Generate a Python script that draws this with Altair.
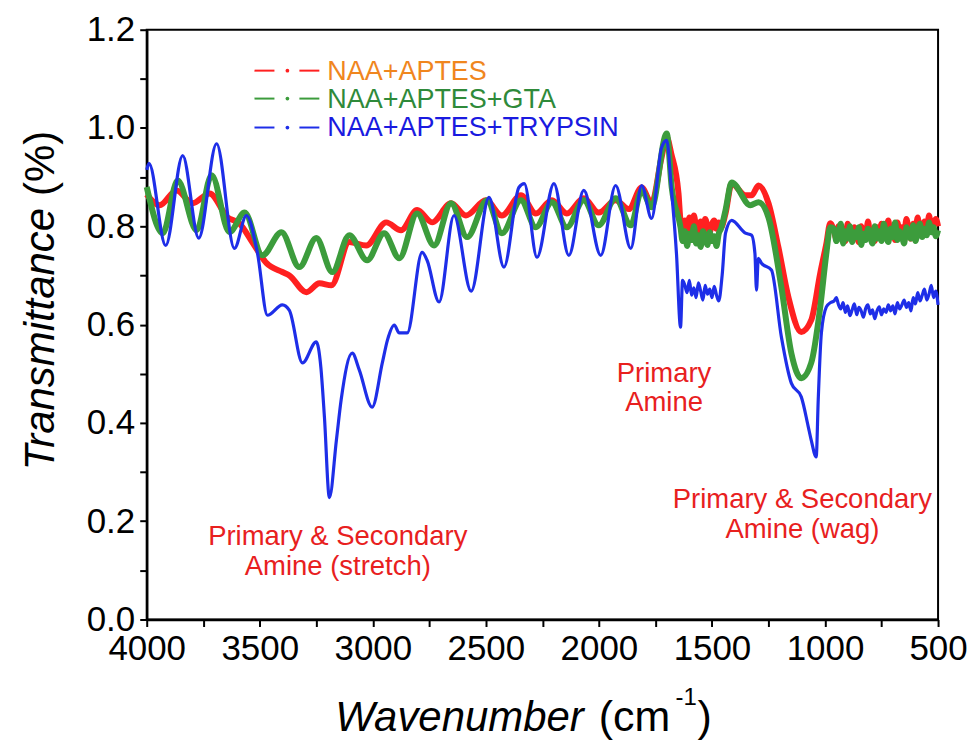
import altair as alt
import pandas as pd

# ---------------- data ----------------
series_names = ["NAA+APTES", "NAA+APTES+GTA", "NAA+APTES+TRYPSIN"]
line_colors = ["#FF2020", "#3C9C3C", "#1E2EE8"]
legend_text_colors = ["#F0861E", "#2F8A3A", "#1A1AE0"]

red_wavenumber = [4000, 3943, 3868, 3797, 3722, 3642, 3590, 3532, 3470, 3400, 3369, 3294, 3236, 3183,
                  3104, 3029, 2941, 2875, 2804, 2738, 2654, 2588, 2500, 2429, 2345, 2279, 2208, 2142,
                  2067, 2001, 1926, 1868, 1811, 1767, 1723, 1700, 1680, 1648, 1639,
                  1630, 1620, 1610, 1600, 1590, 1580, 1570, 1560, 1550, 1540, 1530, 1520, 1510, 1500,
                  1490, 1480, 1470, 1460,
                  1440, 1413, 1352, 1325, 1294, 1250, 1206, 1162, 1105, 1061, 1021, 994, 977,
                  960, 950, 940, 930, 920, 910, 900, 890, 880, 870, 860, 850, 840, 830, 820, 810,
                  800, 790, 780, 770, 760, 750, 740, 730, 720, 710, 700, 690, 680, 670, 660, 650,
                  640, 630, 620, 610, 600, 590, 580, 570, 560, 550, 540, 530, 520, 510, 500]
red_transmittance = [0.865, 0.843, 0.873, 0.847, 0.867, 0.818, 0.806, 0.767, 0.725, 0.707, 0.700, 0.666,
                     0.684, 0.680, 0.768, 0.761, 0.808, 0.792, 0.833, 0.808, 0.847, 0.822, 0.853, 0.822,
                     0.863, 0.826, 0.853, 0.826, 0.857, 0.828, 0.853, 0.835, 0.879, 0.847, 0.940, 0.981,
                     0.948, 0.867, 0.812,
                     0.800, 0.812, 0.790, 0.818, 0.795, 0.822, 0.798, 0.785, 0.810, 0.792, 0.815, 0.800,
                     0.788, 0.805, 0.812, 0.795, 0.808, 0.798,
                     0.826, 0.887, 0.863, 0.863, 0.883, 0.847, 0.757, 0.656, 0.585, 0.609, 0.705, 0.765,
                     0.806,
                     0.790, 0.775, 0.800, 0.780, 0.795, 0.770, 0.805, 0.785, 0.778, 0.798,
                     0.782, 0.768, 0.800, 0.788, 0.775, 0.810, 0.783, 0.792, 0.770, 0.798,
                     0.785, 0.805, 0.778, 0.790, 0.812, 0.780, 0.795, 0.772, 0.808, 0.786,
                     0.798, 0.780, 0.815, 0.790, 0.775, 0.805, 0.792, 0.818, 0.783, 0.800,
                     0.810, 0.788, 0.822, 0.795, 0.805, 0.815, 0.800]

green_wavenumber = [4000, 3929, 3863, 3779, 3713, 3634, 3567, 3488, 3404, 3325, 3250, 3179, 3104, 3025,
                    2950, 2883, 2804, 2729, 2654, 2583, 2495, 2429, 2345, 2279, 2208, 2142, 2067, 2001,
                    1926, 1859, 1811, 1767, 1700, 1678, 1639,
                    1630, 1620, 1610, 1600, 1590, 1580, 1570, 1560, 1550, 1540, 1530, 1520, 1510, 1500,
                    1490, 1480, 1470, 1460,
                    1440, 1413, 1330, 1294, 1250, 1193, 1149, 1105, 1061, 1021, 994, 977,
                    960, 950, 940, 930, 920, 910, 900, 890, 880, 870, 860, 850, 840, 830, 820, 810,
                    800, 790, 780, 770, 760, 750, 740, 730, 720, 710, 700, 690, 680, 670, 660, 650,
                    640, 630, 620, 610, 600, 590, 580, 570, 560, 550, 540, 530, 520, 510, 500]
green_transmittance = [0.880, 0.786, 0.893, 0.792, 0.904, 0.788, 0.828, 0.741, 0.788, 0.717, 0.776, 0.707,
                       0.782, 0.731, 0.786, 0.735, 0.826, 0.761, 0.847, 0.778, 0.853, 0.786, 0.853, 0.798,
                       0.849, 0.798, 0.853, 0.802, 0.857, 0.802, 0.873, 0.839, 0.989, 0.879, 0.798,
                       0.770, 0.790, 0.760, 0.785, 0.772, 0.800, 0.765, 0.782, 0.758, 0.790, 0.775, 0.762,
                       0.788, 0.770, 0.780, 0.760, 0.785, 0.795,
                       0.833, 0.889, 0.843, 0.849, 0.818, 0.676, 0.542, 0.491, 0.522, 0.636, 0.745, 0.798,
                       0.795, 0.770, 0.785, 0.805, 0.765, 0.790, 0.775, 0.800, 0.768, 0.788,
                       0.778, 0.798, 0.762, 0.785, 0.772, 0.795, 0.780, 0.765, 0.800, 0.775,
                       0.790, 0.770, 0.805, 0.782, 0.768, 0.795, 0.778, 0.808, 0.772, 0.790,
                       0.780, 0.765, 0.798, 0.785, 0.775, 0.802, 0.770, 0.790, 0.805, 0.778,
                       0.795, 0.782, 0.808, 0.788, 0.798, 0.780, 0.792]

blue_wavenumber = [4000, 3990, 3916, 3841, 3770, 3691, 3612, 3559, 3510, 3466, 3400, 3369, 3311, 3250,
                   3230, 3214, 3192, 3161, 3140, 3091, 3060, 3003, 2958, 2935, 2905, 2883, 2848, 2782,
                   2760, 2707, 2641, 2565, 2486, 2420, 2354, 2330, 2274, 2199, 2133, 2067, 1992, 1926,
                   1859, 1811, 1767, 1723, 1700, 1680, 1657, 1639, 1630,
                   1620, 1610, 1600, 1590, 1580, 1570, 1560, 1550, 1540, 1530, 1520, 1510, 1500, 1490,
                   1480, 1470, 1455,
                   1440, 1413, 1352, 1325, 1310, 1303, 1295, 1281, 1237, 1193, 1149, 1105, 1074, 1061,
                   1039, 1030, 1016, 994, 975,
                   960, 950, 940, 930, 920, 910, 900, 890, 880, 870, 860, 850, 840, 830, 820, 810,
                   800, 790, 780, 770, 760, 750, 740, 730, 720, 710, 700, 690, 680, 670, 660, 650,
                   640, 630, 620, 610, 600, 590, 580, 570, 560, 550, 540, 530, 520, 510, 500]
blue_transmittance = [0.915, 0.928, 0.761, 0.944, 0.776, 0.968, 0.755, 0.822, 0.745, 0.619, 0.640, 0.629,
                      0.522, 0.565, 0.514, 0.412, 0.248, 0.365, 0.447, 0.542, 0.508, 0.432, 0.522, 0.569,
                      0.599, 0.583, 0.583, 0.747, 0.731, 0.646, 0.822, 0.668, 0.859, 0.717, 0.879, 0.887,
                      0.737, 0.887, 0.741, 0.873, 0.741, 0.883, 0.755, 0.883, 0.816, 0.960, 0.975, 0.879,
                      0.745, 0.595, 0.690,
                      0.680, 0.665, 0.690, 0.660, 0.675, 0.655, 0.685, 0.668, 0.650, 0.680, 0.662, 0.672,
                      0.655, 0.678, 0.660, 0.648, 0.700,
                      0.786, 0.812, 0.786, 0.782, 0.745, 0.670, 0.735, 0.725, 0.711, 0.575, 0.481, 0.453,
                      0.392, 0.365, 0.331, 0.447, 0.583, 0.636, 0.645,
                      0.648, 0.655, 0.640, 0.632, 0.645, 0.625, 0.638, 0.618, 0.630, 0.642,
                      0.620, 0.635, 0.628, 0.615, 0.633, 0.640, 0.622, 0.630, 0.612, 0.628,
                      0.636, 0.620, 0.632, 0.625, 0.640, 0.628, 0.638, 0.622, 0.645, 0.632,
                      0.640, 0.650, 0.635, 0.645, 0.628, 0.655, 0.642, 0.665, 0.648, 0.660,
                      0.672, 0.650, 0.662, 0.680, 0.655, 0.668, 0.640]

x_tick_values = [500, 750, 1000, 1250, 1500, 1750, 2000, 2250, 2500, 2750, 3000, 3250, 3500, 3750, 4000]
y_tick_values = [0.0, 0.1, 0.2, 0.3, 0.4, 0.5, 0.6, 0.7, 0.8, 0.9, 1.0, 1.1, 1.2]

annotation_text = ["Primary & Secondary", "Amine (stretch)", "Primary", "Amine",
                   "Primary & Secondary", "Amine (wag)"]
annotation_wavenumber = [3155, 3155, 1712, 1712, 1100, 1100]
annotation_transmittance = [0.168, 0.107, 0.500, 0.440, 0.244, 0.183]

# ---------------- chart ----------------
FONT = "Liberation Sans, Arial, Helvetica"

x_scale = alt.Scale(domain=[500, 4000], reverse=True, nice=False, zero=False)
y_scale = alt.Scale(domain=[0, 1.2], nice=False, zero=False)

x_axis = alt.Axis(values=x_tick_values, format="d",
                  labelExpr="datum.value % 500 == 0 ? datum.label : ''",
                  title=None, grid=False, tickSize=7, tickWidth=2, tickColor="black",
                  domainColor="black", domainWidth=2.5, labelFont=FONT, labelFontSize=35,
                  labelColor="black", labelPadding=5, labelOverlap=False, labelFlush=False)
y_axis = alt.Axis(values=y_tick_values, format=".1f",
                  labelExpr="round(datum.value * 10) % 2 == 0 ? datum.label : ''",
                  title=None, grid=False, tickSize=7, tickWidth=2, tickColor="black",
                  domainColor="black", domainWidth=2.5, labelFont=FONT, labelFontSize=35,
                  labelColor="black", labelPadding=5, labelOverlap=False, labelFlush=False,
                  labelBaseline="middle")

series_data = [
    (red_wavenumber, red_transmittance, 6),
    (green_wavenumber, green_transmittance, 6),
    (blue_wavenumber, blue_transmittance, 3.2),
]

layers = []
for i, (wn, tr, sw) in enumerate(series_data):
    assert len(wn) == len(tr), (i, len(wn), len(tr))
    df = pd.DataFrame({"wavenumber": wn, "transmittance": tr, "series": series_names[i]})
    layers.append(alt.Chart(df).mark_line(color=line_colors[i], strokeWidth=sw,
                                          interpolate="monotone").encode(
        x=alt.X("wavenumber:Q", scale=x_scale, axis=x_axis),
        y=alt.Y("transmittance:Q", scale=y_scale, axis=y_axis),
    ))

# annotations (data coordinates)
ann_df = pd.DataFrame({"t": annotation_text, "wavenumber": annotation_wavenumber,
                       "transmittance": annotation_transmittance})
layers.append(alt.Chart(ann_df).mark_text(
    font=FONT, fontSize=27.5, color="#E8201E", align="center", baseline="middle"
).encode(x=alt.X("wavenumber:Q", scale=x_scale, axis=x_axis),
         y=alt.Y("transmittance:Q", scale=y_scale, axis=y_axis), text="t:N"))

# legend (drawn manually: dash-dot-dash symbol + coloured text)
legend_rows_y = [41, 69, 98]
for i, name in enumerate(series_names):
    ly = legend_rows_y[i]
    one = pd.DataFrame({"t": [name]})
    layers.append(alt.Chart(one).mark_rule(color=line_colors[i], strokeWidth=2).encode(
        x=alt.value(108), x2=alt.value(128), y=alt.value(ly)))
    layers.append(alt.Chart(one).mark_rule(color=line_colors[i], strokeWidth=2).encode(
        x=alt.value(153), x2=alt.value(173), y=alt.value(ly)))
    layers.append(alt.Chart(one).mark_point(color=line_colors[i], filled=True, size=14, opacity=1).encode(
        x=alt.value(141), y=alt.value(ly)))
    layers.append(alt.Chart(one).mark_text(font=FONT, fontSize=27, color=legend_text_colors[i],
                                           align="left", baseline="middle").encode(
        x=alt.value(181), y=alt.value(ly + 1), text="t:N"))

# axis titles (mixed italic / upright)
def txt(s, x, y, size, style="normal", align="left", baseline="alphabetic", angle=0):
    kw = dict(font=FONT, fontSize=size, fontStyle=style, color="black", align=align, baseline=baseline)
    if angle:
        kw["angle"] = angle
    return alt.Chart(pd.DataFrame({"t": [s]})).mark_text(**kw).encode(
        x=alt.value(x), y=alt.value(y), text="t:N")

layers.append(txt("Wavenumber", 189, 703, 42, style="italic"))
layers.append(txt("(cm", 453, 703, 43))
layers.append(txt("-1", 530, 677, 24))
layers.append(txt(")", 552, 703, 43))
layers.append(txt("Transmittance", -93, 310, 42, style="italic", align="center", angle=270))
layers.append(txt("(%)", -93, 134, 42, align="center", angle=270))

chart = alt.layer(*layers).properties(
    width=793, height=591,
    padding={"left": 139, "top": 21, "right": 30, "bottom": 124},
    autosize=alt.AutoSizeParams(type="none"),
    background="white",
).configure_view(stroke="black", strokeWidth=2)

chart.save("out.html", embed_options={"renderer": "svg", "actions": False})
